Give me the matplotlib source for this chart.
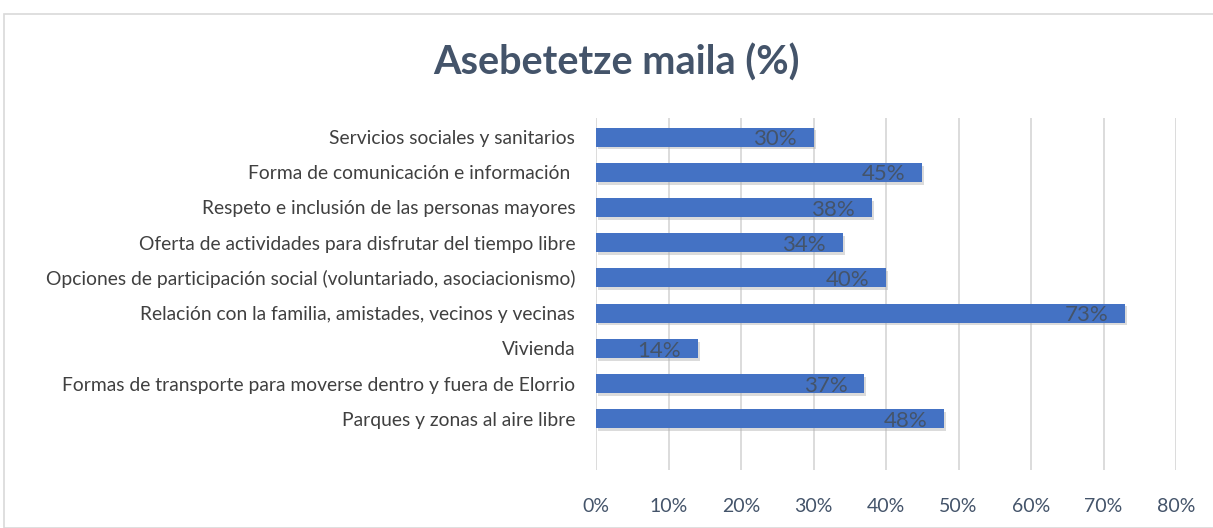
import matplotlib
matplotlib.use('Agg')
import matplotlib.pyplot as plt
import matplotlib.patheffects as pe
from matplotlib.patches import Rectangle

plt.rcParams['font.family'] = ['Lato', 'DejaVu Sans']

# data (top to bottom)
categories = [
    "Servicios sociales y sanitarios",
    "Forma de comunicación e información ",
    "Respeto e inclusión de las personas mayores",
    "Oferta de actividades para disfrutar del tiempo libre",
    "Opciones de participación social (voluntariado, asociacionismo)",
    "Relación con la familia, amistades, vecinos y vecinas",
    "Vivienda",
    "Formas de transporte para moverse dentro y fuera de Elorrio",
    "Parques y zonas al aire libre",
]
values = [30, 45, 38, 34, 40, 73, 14, 37, 48]
xticks = [0, 10, 20, 30, 40, 50, 60, 70, 80]

W, H = 1213, 528
fig = plt.figure(figsize=(W / 100, H / 100), dpi=100)
fig.patches.append(Rectangle((4 / W, 0), 1.2, 1 - 14 / H, transform=fig.transFigure,
                             fill=False, edgecolor='#D9D9D9', linewidth=1.2))

ax = fig.add_axes([596 / W, 58 / H, 580 / W, (470 - 118) / H])
ypos = list(range(len(categories)))
bars = ax.barh(ypos, values, height=0.54, color='#4472C4', zorder=3)
for b in bars:
    b.set_path_effects([pe.SimplePatchShadow(offset=(1.5, -2), shadow_rgbFace='#b0b0b0', alpha=0.45),
                        pe.Normal()])

for y, v in zip(ypos, values):
    ax.annotate(f"{v}%", (v, y), xytext=(-12, -1.5), textcoords='offset points',
                ha='right', va='center', fontsize=16, color='#44546A', zorder=4)

ax.set_xlim(0, 80)
ax.set_ylim(9.45, -0.54)
ax.set_xticks(xticks)
ax.set_xticklabels([f"{t}%" for t in xticks], fontsize=14, color='#44546A')
ax.set_yticks(ypos)
ax.set_yticklabels(categories, fontsize=13.9, color='#404040')
ax.tick_params(axis='x', length=0, pad=20)
ax.tick_params(axis='y', length=0, pad=15)
ax.grid(axis='x', color='#D9D9D9', linewidth=1.3, zorder=0)
for s in ax.spines.values():
    s.set_visible(False)

fig.text(616 / W, 1 - 63 / H, "Asebetetze maila (%)", ha='center', va='center',
         fontsize=28.5, fontweight='bold', color='#44546A')

fig.savefig('out.png', dpi=100)
